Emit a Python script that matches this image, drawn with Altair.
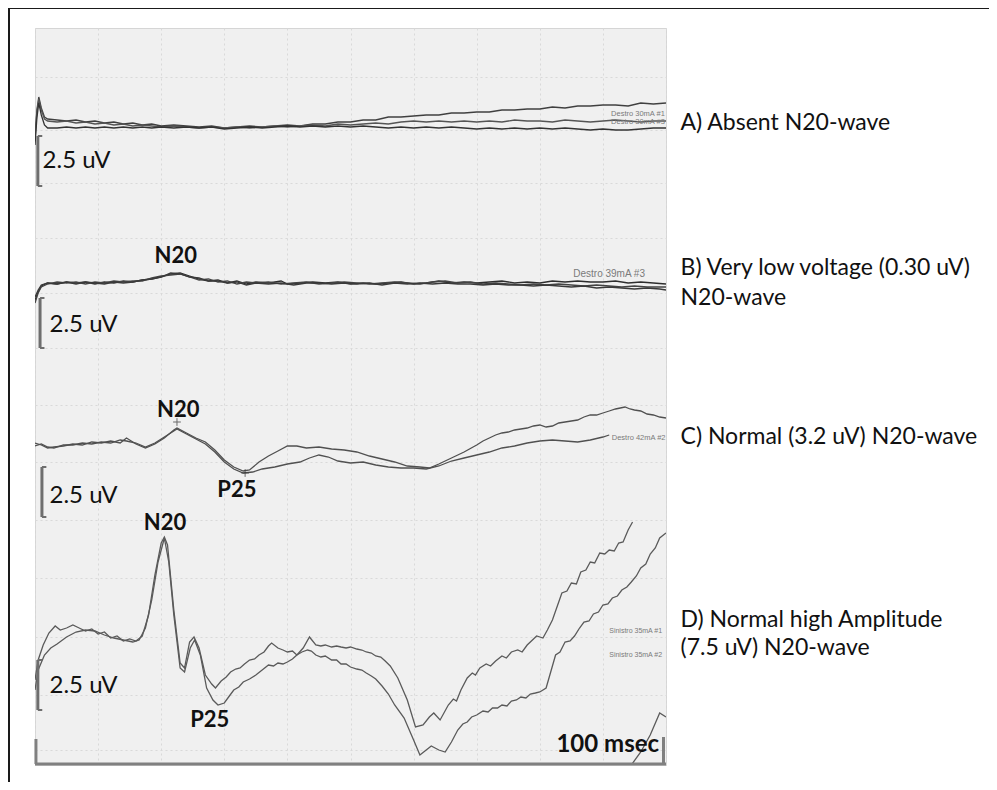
import altair as alt
import pandas as pd

# ---------------- data (time in msec, amplitude in uV relative to each panel's baseline) -------------
panel_offset = {"A": 32.0, "B": 24.1, "C": 16.0, "D": 6.25}

trace_A1 = [[0,-0.5],[0.3,0.75],[0.6,1.4],[1.0,0.85],[1.5,0.4],[2,0.3],[3.5,0.25],[5,0.2],[6.5,0.25],[8,0.15],
            [9.5,0.2],[11,0.1],[12.5,0.15],[14,0.05],[15.5,0.1],[17,0],[18.5,0.05],[20,-0.05],[22,0],[24,-0.05],
            [26,-0.1],[28,-0.05],[30,-0.15],[32,-0.1],[34,-0.05],[36,-0.1],[38,-0.05],[40,0],[42,-0.05],[44,0.05],
            [46,0.05],[48,0.15],[50,0.15],[52,0.25],[54,0.25],[56,0.4],[58,0.4],[60,0.45],[62,0.5],[64,0.5],
            [66,0.6],[68,0.6],[70,0.65],[72,0.65],[74,0.75],[76,0.75],[78,0.8],[80,0.8],[82,0.9],[84,0.85],
            [86,0.95],[88,0.95],[90,1.0],[92,1.0],[94,0.95],[96,1.1],[98,1.05],[100,1.1]]
trace_A2 = [[0,-0.75],[0.3,0.65],[0.6,1.3],[1.0,0.75],[1.5,0.3],[2,0.2],[3.5,0.15],[5,0.2],[6.5,0.1],[8,0.15],
            [9.5,0.05],[11,0.1],[12.5,0.0],[14,0.05],[15.5,-0.05],[17,0.0],[18.5,-0.05],[20,-0.1],[22,-0.05],[24,-0.1],
            [26,-0.15],[28,-0.1],[30,-0.15],[32,-0.1],[34,-0.15],[36,-0.1],[38,-0.05],[40,-0.1],[42,-0.05],[44,0.0],
            [46,-0.05],[48,0.05],[50,0.0],[52,0.05],[54,0.1],[56,0.05],[58,0.15],[60,0.2],[62,0.15],[64,0.2],
            [66,0.15],[68,0.2],[70,0.15],[72,0.2],[74,0.15],[76,0.25],[78,0.2],[80,0.2],[82,0.15],[84,0.25],
            [86,0.2],[88,0.15],[90,0.2],[92,0.25],[94,0.2],[96,0.15],[98,0.2],[100,0.2]]
trace_A3 = [[0,-1.0],[0.3,0.35],[0.6,1.1],[1.0,0.5],[1.5,0.0],[2,-0.15],[3.5,-0.15],[5,-0.1],[6.5,-0.15],[8,-0.1],
            [9.5,-0.15],[11,-0.1],[12.5,-0.15],[14,-0.1],[15.5,-0.15],[17,-0.1],[18.5,-0.15],[20,-0.1],[22,-0.15],
            [24,-0.1],[26,-0.15],[28,-0.1],[30,-0.2],[32,-0.15],[34,-0.1],[36,-0.15],[38,-0.1],[40,-0.05],[42,-0.1],
            [44,-0.05],[46,-0.1],[48,-0.05],[50,-0.1],[52,-0.05],[54,-0.1],[56,-0.15],[58,-0.1],[60,-0.15],[62,-0.1],
            [64,-0.15],[66,-0.1],[68,-0.15],[70,-0.2],[72,-0.15],[74,-0.2],[76,-0.15],[78,-0.2],[80,-0.15],[82,-0.2],
            [84,-0.15],[86,-0.2],[88,-0.25],[90,-0.2],[92,-0.25],[94,-0.25],[96,-0.2],[98,-0.15],[100,-0.15]]

trace_B1 = [[0,-0.85],[0.5,-0.45],[1,-0.15],[2,0],[3.5,-0.05],[5,0.05],[6.5,0],[8,0.05],[9.5,-0.05],[11,0.05],
            [12.5,0],[14,0.1],[15.5,0.05],[17,0.15],[18.5,0.2],[20,0.3],[21.5,0.45],[23,0.5],[24.5,0.35],[26,0.2],
            [27.5,0.1],[29,0.15],[30.5,0],[32,0.1],[33.5,-0.05],[35,0.05],[37,0],[39,0.1],[40,-0.05],[42,0],
            [44,0.05],[46,0],[48,0.05],[50,-0.05],[52,0],[54,-0.05],[56,0],[58,0.05],[60,-0.05],[62,0],[64,0.1],
            [66,0],[68,0.05],[70,0],[72,0.05],[74,0.1],[76,0],[78,0.05],[80,0],[82,0.1],[84,0.05],[86,0.1],
            [88,0.05],[90,0.05],[92,0.1],[94,0],[96,0.05],[98,0],[100,-0.05]]
trace_B2 = [[0,-1.0],[0.5,-0.5],[1,-0.2],[2,-0.05],[3.5,0.05],[5,0.0],[6.5,0.05],[8,-0.05],[9.5,0.05],[11,0.0],
            [12.5,0.1],[14,0.05],[15.5,0.1],[17,0.1],[18.5,0.25],[20,0.35],[21.5,0.4],[23,0.45],[24.5,0.3],[26,0.15],
            [27.5,0.2],[29,0.05],[30.5,0.1],[32,-0.05],[33.5,0.05],[35,0.0],[37,0.05],[39,-0.05],[41,0.0],[43,0.05],
            [45,-0.05],[47,0.0],[49,0.05],[51,0.0],[53,-0.05],[55,0.0],[57,0.05],[59,0.0],[61,-0.05],[63,0.05],
            [65,0.1],[67,0.0],[69,0.05],[71,-0.05],[73,0.0],[75,-0.05],[77,-0.1],[79,-0.05],[81,-0.1],[83,-0.05],
            [85,-0.1],[87,-0.15],[89,-0.1],[91,-0.15],[93,-0.2],[95,-0.15],[97,-0.2],[99,-0.2],[100,-0.2]]
trace_B3 = [[0,-0.7],[0.5,-0.35],[1,-0.1],[2,0.0],[3.5,-0.05],[5,0.05],[6.5,-0.05],[8,0.05],[9.5,0.0],[11,-0.05],
            [12.5,0.05],[14,0.0],[15.5,0.05],[17,0.15],[18.5,0.2],[20,0.3],[21.5,0.5],[23,0.45],[24.5,0.3],[26,0.25],
            [27.5,0.1],[29,0.1],[30.5,0.0],[32,0.05],[33.5,-0.1],[35,0.0],[37,-0.05],[39,0.0],[41,-0.1],[43,0.0],
            [45,0.0],[47,-0.05],[49,0.0],[51,-0.05],[53,0.0],[55,-0.1],[57,0.0],[59,-0.05],[61,0.0],[63,-0.05],
            [65,0.0],[67,-0.05],[69,-0.05],[71,-0.1],[73,-0.05],[75,-0.1],[77,-0.1],[79,-0.15],[81,-0.1],[83,-0.15],
            [85,-0.2],[87,-0.15],[89,-0.25],[91,-0.2],[93,-0.25],[95,-0.3],[97,-0.25],[99,-0.3],[100,-0.35]]

trace_C1 = [[0,0.1],[1,0],[2,-0.15],[3,-0.1],[4.5,-0.05],[6,0.05],[7.5,0],[9,0.15],[10.5,0.1],[12,0.2],
            [13.5,0.1],[14.5,0.35],[16,0.05],[17.5,-0.15],[19,0.05],[20.5,0.35],[22,0.75],[22.5,0.85],[24,0.6],
            [25.5,0.35],[27,0.15],[28.5,-0.25],[30,-0.75],[31.5,-1.1],[33,-1.3],[34,-1.25],[35.5,-0.85],[37,-0.55],
            [38.5,-0.3],[40,-0.05],[41.5,-0.05],[43,-0.15],[45,-0.1],[47,-0.2],[49,-0.25],[51,-0.35],[53,-0.55],
            [55,-0.7],[57,-0.85],[59,-1.05],[61,-1.1],[62.5,-1.15],[64,-0.95],[66,-0.65],[68,-0.35],[70,0],
            [71,0.2],[72,0.35],[73,0.5],[74,0.6],[75,0.65],[76,0.75],[77,0.8],[78,0.85],[79,0.95],[80,1.0],
            [81,0.9],[82,0.95],[83,1.1],[84,1.15],[85,1.2],[86,1.25],[87,1.4],[88,1.5],[89,1.5],[90,1.6],
            [91,1.7],[92,1.8],[93.5,1.9],[94.3,1.8],[95,1.75],[96,1.7],[97,1.55],[98,1.5],[99,1.4],[100,1.35]]
trace_C2 = [[0,-0.05],[1,0.05],[2,-0.1],[3,-0.15],[4.5,0.0],[6,0.0],[7.5,0.1],[9,0.05],[10.5,0.15],[12,0.1],
            [13.5,0.25],[14.5,0.2],[16,0.1],[17.5,-0.1],[19,0.1],[20.5,0.4],[22,0.7],[22.5,0.8],[24,0.55],
            [25.5,0.3],[27,0.05],[28.5,-0.35],[30,-0.85],[31.5,-1.2],[33,-1.4],[34.5,-1.35],[36,-1.2],[38,-1.1],
            [40,-0.95],[42,-0.85],[43.5,-0.65],[45,-0.5],[46.5,-0.6],[48,-0.8],[50,-0.9],[52,-0.85],[54,-1.0],
            [56,-1.1],[58,-1.15],[60,-1.15],[62,-1.2],[64,-1.05],[66,-0.8],[68,-0.65],[70,-0.5],[72,-0.35],
            [74,-0.15],[76,-0.05],[78,0.1],[80,0.2],[82,0.25],[84,0.2],[86,0.15],[88,0.25],[90,0.4],[91,0.5]]

trace_D1 = [[0,-2.0],[0.5,-1.0],[1.3,-0.25],[2.2,0.35],[3.2,0.7],[4,0.5],[5,0.6],[6,0.75],[7,0.6],[8,0.45],
            [9,0.55],[10,0.3],[11,0.4],[12,0.1],[13,0.2],[14,-0.05],[15,0.05],[16,-0.05],[17,0.2],[18,1.25],
            [19,3.25],[20,4.85],[20.5,5.15],[21,4.75],[22,1.5],[23,-1.15],[23.7,-1.4],[24.5,-0.1],[25.2,0.15],
            [26,-0.4],[27,-1.75],[28,-2.2],[28.6,-2.4],[29.5,-2.05],[30.3,-1.85],[31,-1.6],[31.8,-1.45],[32.5,-1.4],
            [33.2,-1.2],[34,-1.0],[34.8,-0.95],[35.5,-0.75],[36.3,-0.6],[37,-0.3],[37.5,-0.15],[38.5,-0.4],
            [39.3,-0.5],[40,-0.6],[40.8,-0.55],[41.5,-0.75],[42.3,-0.6],[43.2,-0.5],[43.8,-0.55],[44.5,-0.75],
            [45.3,-0.85],[46,-0.8],[47,-1.0],[47.8,-1.0],[48.5,-1.2],[49.3,-1.2],[50,-1.35],[51,-1.45],
            [51.8,-1.5],[52.5,-1.65],[53.3,-1.8],[54,-1.95],[55,-2.3],[56,-2.7],[57,-3.25],[58.5,-3.9],
            [60,-5.0],[61,-5.75],[62,-5.5],[62.8,-5.3],[64,-5.5],[65,-5.6],[66,-5.1],[67,-4.5],[67.8,-4.2],
            [68.5,-4.1],[69.2,-3.85],[70,-3.75],[71,-3.55],[71.8,-3.6],[72.5,-3.4],[73.3,-3.4],[74,-3.25],
            [74.8,-3.3],[75.5,-3.05],[76.3,-3.0],[77,-2.85],[77.8,-2.9],[78.5,-2.7],[79.3,-2.65],[80,-2.6],
            [81,-2.4],[82.5,-0.75],[83.2,-0.6],[84,-0.1],[84.8,-0.05],[85.5,0.2],[86.3,0.6],[87,0.9],[87.8,0.95],
            [88.5,1.3],[89.3,1.4],[90,1.75],[90.8,1.8],[91.5,2.1],[92.3,2.2],[93,2.5],[93.8,2.65],[94.5,2.9],
            [95.3,3.2],[96,3.6],[96.8,3.8],[97.5,4.3],[98.3,4.6],[99,5.1],[100,5.35]]
trace_D2 = [[0,-2.5],[0.5,-1.5],[1.5,-0.75],[2.5,-0.4],[3.5,-0.2],[5,0.15],[6.5,0.4],[8,0.5],[9.5,0.45],
            [11,0.25],[12.5,0.1],[14,0.0],[15.5,-0.1],[16.5,0.0],[17.5,0.6],[18.5,2.0],[19.5,3.9],[20.5,5.1],
            [21.2,3.9],[22,1.25],[23,-1.4],[23.7,-1.6],[24.6,-0.4],[25.3,0.0],[26.2,-0.75],[27.2,-2.4],
            [28.2,-3.0],[29,-3.25],[30,-3.15],[30.8,-2.8],[31.5,-2.5],[32.3,-2.35],[33,-2.1],[34,-1.95],[35,-1.75],
            [36,-1.5],[37,-1.25],[37.8,-1.3],[38.5,-1.15],[39.3,-1.2],[40,-1.1],[40.8,-0.95],[41.5,-0.75],
            [42.5,-0.4],[43.5,0.15],[44.5,-0.25],[45.3,-0.3],[46,-0.25],[47,-0.35],[47.8,-0.3],[48.5,-0.35],
            [49.3,-0.4],[50,-0.35],[51,-0.45],[51.8,-0.5],[52.5,-0.6],[53.3,-0.65],[54,-0.8],[54.8,-0.85],
            [55.5,-1.05],[56.3,-1.3],[57.5,-1.9],[59,-3.0],[60.3,-4.35],[61.5,-4.25],[62.5,-3.85],
            [63.2,-3.65],[64.2,-4.0],[65.5,-3.25],[66.3,-2.95],[66.8,-3.05],[67.5,-2.5],[68.5,-1.9],[69.3,-1.65],
            [69.8,-1.75],[70.5,-1.4],[71.5,-1.2],[72.2,-1.3],[73,-1.05],[74,-0.8],[74.7,-0.9],[75.5,-0.6],
            [76.5,-0.5],[77.2,-0.6],[78,-0.25],[79.5,0.2],[80.5,0.1],[81.2,0.5],[82,1.0],[83.5,2.35],[84.3,2.45],
            [85,2.85],[85.8,2.8],[86.5,3.4],[87.3,3.5],[88,3.9],[88.7,3.85],[89.5,4.35],[90.3,4.3],[91,4.5],
            [91.8,4.45],[92.5,4.85],[93.2,4.9],[94,5.5],[94.7,5.9]]
trace_D3 = [[94.5,-6.25],[96,-5.6],[97.5,-4.75],[99,-3.65],[100,-3.85]]

traces = [("A1", "A", trace_A1, "#404040"), ("A2", "A", trace_A2, "#555555"), ("A3", "A", trace_A3, "#333333"),
          ("B1", "B", trace_B1, "#2e2e2e"), ("B2", "B", trace_B2, "#444444"), ("B3", "B", trace_B3, "#3a3a3a"),
          ("C1", "C", trace_C1, "#505050"), ("C2", "C", trace_C2, "#505050"),
          ("D1", "D", trace_D1, "#5a5a5a"), ("D2", "D", trace_D2, "#5a5a5a"), ("D3", "D", trace_D3, "#5a5a5a")]

# annotations
scale_label_x = [1.2, 2.3, 2.3, 2.3]
scale_label_y = [30.2, 22.0, 13.45, 3.95]
wave_labels = ["N20", "N20", "P25", "N20", "P25"]
wave_x = [22.3, 22.7, 32.0, 20.6, 27.7]
wave_y = [25.45, 17.75, 13.75, 12.1, 2.25]
desc_text = ["A) Absent N20-wave", "B) Very low voltage (0.30 uV)", "N20-wave",
             "C) Normal (3.2 uV) N20-wave", "D) Normal high Amplitude", "(7.5 uV) N20-wave"]
desc_y = [32.1, 24.85, 23.35, 16.4, 7.25, 5.85]
small_text = ["Destro 30mA #1", "Destro 30mA #3", "Destro 39mA #3", "Destro 42mA #2",
              "Sinistro 35mA #1", "Sinistro 35mA #2"]
small_x = [91.3, 91.3, 85.3, 91.4, 91.0, 91.0]
small_y = [32.55, 32.15, 24.55, 16.35, 6.7, 5.5]
small_size = [7.5, 7.5, 10, 7.5, 7, 7]
marker_x = [22.5, 33.3]
marker_y = [17.15, 14.6]
bar_x = [0.45, 0.8, 1.1, 0.45]
bar_top = [31.45, 23.35, 14.9, 5.25]
bar_bottom = [28.95, 20.85, 12.4, 2.75]
grid_x = [0, 10, 20, 30, 40, 50, 60, 70, 80, 90, 100]
grid_y = [34.4, 31.75, 29.1, 26.35, 23.6, 20.85, 18.0, 15.15, 12.25, 9.35, 6.4, 3.5, 0.75]

# ---------------- build tables ----------------
rows = []
for name, panel, pts, col in traces:
    for t, v in pts:
        rows.append({"t": t, "v": v + panel_offset[panel], "trace": name, "col": col})
df = pd.DataFrame(rows)

XS = alt.Scale(domain=[0, 100], nice=False, zero=False)
YS = alt.Scale(domain=[0, 36.85], nice=False, zero=False)
XA = alt.Axis(values=grid_x, grid=True, labels=False, ticks=False, domain=False, title=None,
              gridDash=[2, 3], gridColor="#d9d9d9", gridWidth=1)
YA = alt.Axis(values=grid_y, grid=True, labels=False, ticks=False, domain=False, title=None,
              gridDash=[2, 3], gridColor="#d9d9d9", gridWidth=1)


def X(field):
    return alt.X(field, scale=XS, axis=XA)


def Y(field):
    return alt.Y(field, scale=YS, axis=YA)


lines = alt.Chart(df).mark_line(strokeWidth=1.3, clip=True).encode(
    x=X("t:Q"), y=Y("v:Q"),
    detail="trace:N",
    color=alt.Color("col:N", scale=None),
    order="t:Q",
)

# scale bars (2.5 uV)
bars = pd.DataFrame({"x": bar_x, "top": bar_top, "bottom": bar_bottom})
bars["xc"] = bars["x"] + 0.7
bar_v = alt.Chart(bars).mark_rule(color="#6e6e6e", strokeWidth=3).encode(
    x=X("x:Q"), y=Y("top:Q"), y2="bottom:Q")
bar_c1 = alt.Chart(bars).mark_rule(color="#6e6e6e", strokeWidth=2).encode(
    x=X("x:Q"), x2="xc:Q", y=Y("top:Q"))
bar_c2 = alt.Chart(bars).mark_rule(color="#6e6e6e", strokeWidth=2).encode(
    x=X("x:Q"), x2="xc:Q", y=Y("bottom:Q"))

# time scale bar (100 msec)
tb = pd.DataFrame({"x0": [0.0], "x1": [100.0], "y0": [0.05]})
tbar_h = alt.Chart(tb).mark_rule(color="#808080", strokeWidth=3).encode(
    x=X("x0:Q"), x2="x1:Q", y=Y("y0:Q"))
tends = pd.DataFrame({"x": [0.15, 99.6], "y0": [0.05, 0.05], "y1": [1.3, 1.4]})
tbar_v = alt.Chart(tends).mark_rule(color="#808080", strokeWidth=3).encode(
    x=X("x:Q"), y=Y("y0:Q"), y2="y1:Q")

# markers
mk = pd.DataFrame({"x": marker_x, "y": marker_y})
markers = alt.Chart(mk).mark_point(shape="M -1 0 L 1 0 M 0 -1 L 0 1", size=60, filled=False,
                                   color="#333333", strokeWidth=1).encode(x=X("x:Q"), y=Y("y:Q"))

FONT = "Lato"
sl = pd.DataFrame({"x": scale_label_x, "y": scale_label_y, "text": ["2.5 uV"] * 4})
scale_txt = alt.Chart(sl).mark_text(font=FONT, fontSize=24, align="left", baseline="middle",
                                    color="#111111").encode(x=X("x:Q"), y=Y("y:Q"), text="text:N")

wl = pd.DataFrame({"x": wave_x, "y": wave_y, "text": wave_labels})
wave_txt = alt.Chart(wl).mark_text(font=FONT, fontSize=22, fontWeight="bold", align="center",
                                   baseline="middle", color="#111111").encode(
    x=X("x:Q"), y=Y("y:Q"), text="text:N")

ms = pd.DataFrame({"x": [98.9], "y": [1.0], "text": ["100 msec"]})
ms_txt = alt.Chart(ms).mark_text(font=FONT, fontSize=24, fontWeight="bold", align="right",
                                 baseline="middle", color="#111111").encode(
    x=X("x:Q"), y=Y("y:Q"), text="text:N")

dl = pd.DataFrame({"x": [102.3] * len(desc_text), "y": desc_y, "text": desc_text})
desc_txt = alt.Chart(dl).mark_text(font=FONT, fontSize=23, align="left", baseline="middle",
                                   color="#111111").encode(x=X("x:Q"), y=Y("y:Q"), text="text:N")

st = pd.DataFrame({"x": small_x, "y": small_y, "text": small_text, "fs": small_size})
small_txt = alt.Chart(st).mark_text(font="Liberation Sans", align="left", baseline="middle",
                                    color="#7a7a7a").encode(
    x=X("x:Q"), y=Y("y:Q"), text="text:N", size=alt.Size("fs:Q", scale=None))

# outer frame (left and top edges)
one = pd.DataFrame({"k": [0]})
frame_left = alt.Chart(one).mark_rule(color="#1a1a1a", strokeWidth=2).encode(
    x=alt.value(-26), y=alt.value(-20), y2=alt.value(760))
frame_top = alt.Chart(one).mark_rule(color="#1a1a1a", strokeWidth=2).encode(
    x=alt.value(-26), x2=alt.value(960), y=alt.value(-20))

chart = alt.layer(
    lines, bar_v, bar_c1, bar_c2, tbar_h, tbar_v, markers,
    small_txt, scale_txt, wave_txt, ms_txt, desc_txt, frame_left, frame_top
).properties(
    width=631, height=737,
    autosize=alt.AutoSizeParams(type="none"),
    padding={"left": 27, "top": 20, "right": 323, "bottom": 17},
    background="white",
).configure_view(fill="#f0f0f0", stroke="#d5d5d5", strokeWidth=1)

chart.save("out.html", embed_options={"renderer": "svg", "actions": False})
